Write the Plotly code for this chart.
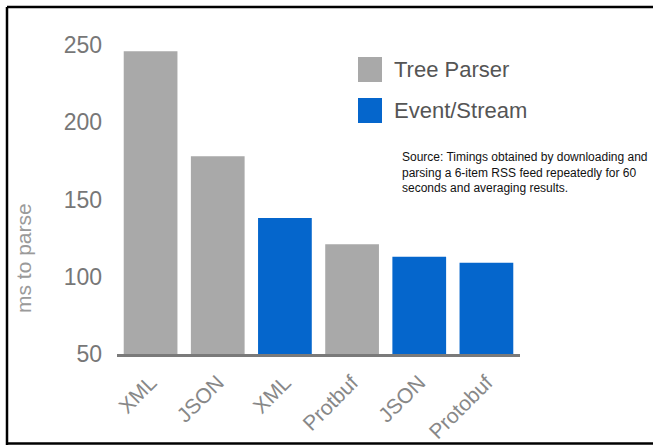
import plotly.graph_objects as go

# Data
labels = ["XML", "JSON", "XML", "Protbuf", "JSON", "Protobuf"]
values = [246, 178, 138, 121, 113, 109]
parser = ["Tree Parser", "Tree Parser", "Event/Stream", "Tree Parser", "Event/Stream", "Event/Stream"]
series_names = ["Tree Parser", "Event/Stream"]
series_colors = {"Tree Parser": "#a9a9a9", "Event/Stream": "#0566cc"}
y_ticks = [50, 100, 150, 200, 250]
source_text = ("Source: Timings obtained by downloading and<br>"
               "parsing a 6-item RSS feed repeatedly for 60<br>"
               "seconds and averaging results.")

FONT = "Arial, Liberation Sans, sans-serif"

fig = go.Figure()
for name in series_names:
    xs = [i for i, p in enumerate(parser) if p == name]
    ys = [values[i] for i in xs]
    fig.add_trace(go.Bar(x=xs, y=ys, name=name,
                         marker=dict(color=series_colors[name], line=dict(width=0)),
                         showlegend=False))

W, H = 653, 445
L, R, T, B = 117, 133, 45, 91
pw, ph = W - L - R, H - T - B

def px(x):
    return (x - L) / pw

def py(y):
    return (H - B - y) / ph

shapes = []
# legend squares
legend_rows = [(57, 82), (98, 123)]
for name, (y0, y1) in zip(series_names, legend_rows):
    shapes.append(dict(type="rect", xref="paper", yref="paper",
                       x0=px(358), x1=px(382), y0=py(y1), y1=py(y0),
                       fillcolor=series_colors[name], line=dict(width=0)))
# frame lines (top, left, bottom)
frame = dict(color="black", width=2.5)
shapes.append(dict(type="line", xref="paper", yref="paper",
                   x0=px(7), x1=px(660), y0=py(7), y1=py(7), line=frame))
shapes.append(dict(type="line", xref="paper", yref="paper",
                   x0=px(7), x1=px(7), y0=py(7), y1=py(446), line=frame))
shapes.append(dict(type="line", xref="paper", yref="paper",
                   x0=px(7), x1=px(660), y0=py(443.5), y1=py(443.5), line=frame))

annotations = []
for name, (y0, y1) in zip(series_names, legend_rows):
    annotations.append(dict(xref="paper", yref="paper", x=px(392), y=py((y0 + y1) / 2),
                            xanchor="left", yanchor="middle", showarrow=False,
                            text=name, font=dict(family=FONT, size=22, color="#555555")))
annotations.append(dict(xref="paper", yref="paper", x=px(400), y=py(172.5),
                        xanchor="left", yanchor="middle", align="left", showarrow=False,
                        text=source_text, font=dict(family=FONT, size=12, color="#111111")))
annotations.append(dict(xref="paper", yref="paper", x=px(23), y=py(258),
                        xanchor="center", yanchor="middle", textangle=-90, showarrow=False,
                        text="ms to parse", font=dict(family=FONT, size=21, color="#9a9a9a")))

fig.update_layout(
    width=W, height=H,
    margin=dict(l=L, r=R, t=T, b=B, pad=0, autoexpand=False),
    paper_bgcolor="white", plot_bgcolor="white",
    barmode="overlay", bargap=0.2,
    shapes=shapes, annotations=annotations,
    xaxis=dict(range=[-0.5, 5.5], tickmode="array", tickvals=list(range(len(labels))),
               ticktext=labels, tickangle=-45, showgrid=False, zeroline=False,
               showline=True, linecolor="#7a7a7a", linewidth=3, ticks="",
               ticklabelstandoff=5, automargin=False,
               tickfont=dict(family=FONT, size=21, color="#888888")),
    yaxis=dict(range=[50, 250], tickmode="array", tickvals=y_ticks,
               showgrid=False, zeroline=False, showline=False, ticks="",
               ticklabelstandoff=14, automargin=False,
               tickfont=dict(family=FONT, size=23, color="#777777")),
)

fig.write_html("out.html")
